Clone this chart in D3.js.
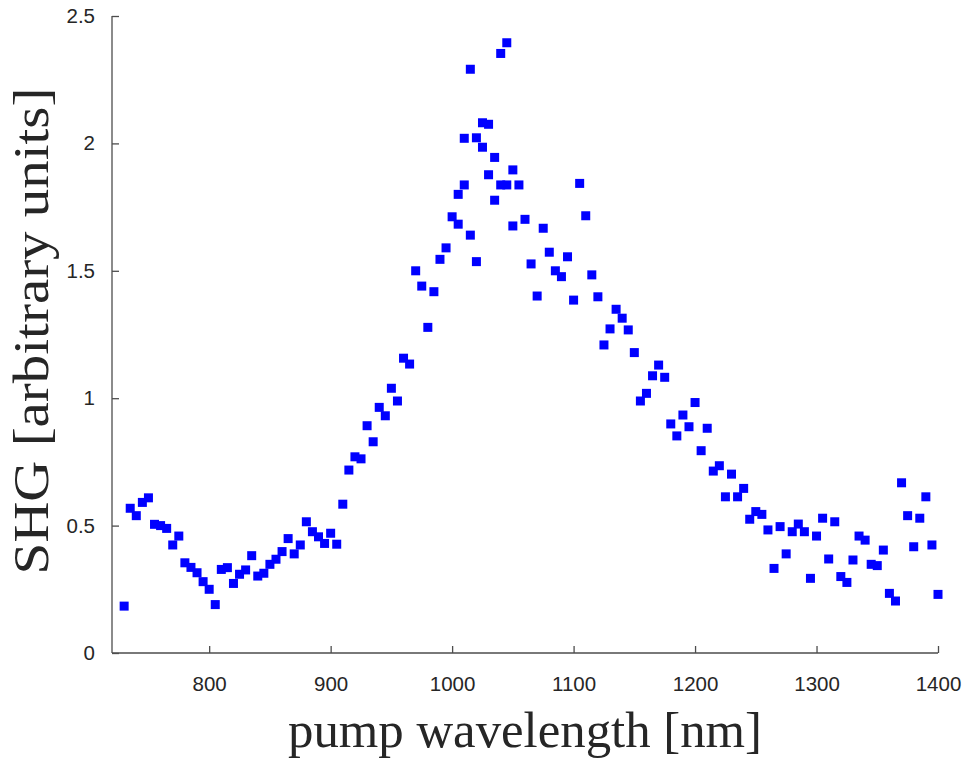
<!DOCTYPE html>
<html>
<head>
<meta charset="utf-8">
<script src="https://cdn.jsdelivr.net/npm/d3@7"></script>
<style>
  body { margin: 0; background: #fff; }
  .axis text { font-family: "Liberation Sans", Arial, sans-serif; font-size: 20.5px; fill: #262626; }
  .axis path, .axis line { stroke: #4d4d4d; stroke-width: 1.3; }
  .label { font-family: "Liberation Serif", "Times New Roman", serif; fill: #262626; }
</style>
</head>
<body>
<script>
// wavelength in nm, SHG in arbitrary units
var wavelength = [730, 735, 740, 745, 750, 755, 760, 765, 770, 775, 780, 785, 790, 795, 800, 805,
    810, 815, 820, 825, 830, 835, 840, 845, 850, 855, 860, 865, 870, 875, 880, 885, 890, 895, 900, 905,
    910, 915, 920, 925, 930, 935, 940, 945, 950, 955, 960, 965, 970, 975, 980, 985, 990, 995, 1000,
    1005, 1005, 1010, 1010, 1015, 1015, 1020, 1020, 1025, 1025, 1030, 1030, 1035, 1035, 1040, 1040,
    1045, 1045, 1050, 1050, 1055, 1060, 1065, 1070, 1075, 1080, 1085, 1090, 1095, 1100, 1105, 1110,
    1115, 1120, 1125, 1130, 1135, 1140, 1145, 1150, 1155, 1160, 1165, 1170, 1175, 1180, 1185, 1190,
    1195, 1200, 1205, 1210, 1215, 1220, 1225, 1230, 1235, 1240, 1245, 1250, 1255, 1260, 1265, 1270,
    1275, 1280, 1285, 1290, 1295, 1300, 1305, 1310, 1315, 1320, 1325, 1330, 1335, 1340, 1345, 1350,
    1355, 1360, 1365, 1370, 1375, 1380, 1385, 1390, 1395, 1400];
var shg = [0.184, 0.568, 0.539, 0.591, 0.609, 0.505, 0.500, 0.489, 0.424, 0.459, 0.354, 0.336, 0.315, 0.280, 0.250, 0.190,
    0.328, 0.335, 0.273, 0.309, 0.326, 0.382, 0.302, 0.313, 0.348, 0.368, 0.398, 0.449, 0.389, 0.424, 0.515, 0.476, 0.456, 0.430, 0.470, 0.427,
    0.584, 0.718, 0.770, 0.762, 0.892, 0.829, 0.964, 0.931, 1.039, 0.989, 1.157, 1.134, 1.500, 1.440, 1.278, 1.418, 1.545, 1.590, 1.712,
    1.800, 1.683, 2.020, 1.837, 2.291, 1.640, 2.022, 1.536, 2.081, 1.985, 2.075, 1.877, 1.945, 1.777, 2.353, 1.837,
    2.395, 1.837, 1.896, 1.676, 1.837, 1.702, 1.527, 1.401, 1.667, 1.573, 1.500, 1.477, 1.555, 1.385, 1.843, 1.716,
    1.484, 1.398, 1.209, 1.272, 1.349, 1.314, 1.268, 1.179, 0.989, 1.019, 1.088, 1.130, 1.082, 0.899, 0.852, 0.934,
    0.888, 0.983, 0.794, 0.882, 0.714, 0.735, 0.613, 0.702, 0.613, 0.646, 0.525, 0.555, 0.544, 0.483, 0.332, 0.496,
    0.389, 0.476, 0.506, 0.476, 0.293, 0.459, 0.529, 0.369, 0.515, 0.300, 0.277, 0.365, 0.459, 0.443, 0.348, 0.343,
    0.404, 0.234, 0.204, 0.668, 0.539, 0.417, 0.529, 0.613, 0.424, 0.230];
var xTicks = [800, 900, 1000, 1100, 1200, 1300, 1400];
var yTicks = [0, 0.5, 1, 1.5, 2, 2.5];

var margin = {top: 16, right: 32, bottom: 105, left: 112},
    width = 970 - margin.left - margin.right,
    height = 758 - margin.top - margin.bottom;

var data = wavelength.map(function(w, i) { return {nm: w, v: shg[i]}; });

var x = d3.scaleLinear().domain([720, 1400]).range([0, width]);
var y = d3.scaleLinear().domain([0, 2.5]).range([height, 0]);

var svg = d3.select("body").append("svg")
    .attr("width", 970)
    .attr("height", 758)
    .append("g")
    .attr("transform", "translate(" + margin.left + "," + margin.top + ")");

svg.append("g")
    .attr("class", "x axis")
    .attr("transform", "translate(0," + height + ")")
    .call(d3.axisBottom(x).tickValues(xTicks).tickFormat(d3.format("d")).tickSizeInner(-7).tickSizeOuter(0).tickPadding(23))
    .select(".domain").attr("d", "M0,0H" + width);

svg.append("g")
    .attr("class", "y axis")
    .call(d3.axisLeft(y).tickValues(yTicks).tickFormat(d3.format("")).tickSizeInner(-7).tickSizeOuter(0).tickPadding(17))
    .select(".domain").attr("d", "M0," + height + "V0");

// markers
var s = 9;
svg.selectAll("rect.pt")
    .data(data)
    .enter().append("rect")
    .attr("class", "pt")
    .attr("x", function(d) { return x(d.nm) - s / 2; })
    .attr("y", function(d) { return y(d.v) - s / 2; })
    .attr("width", s)
    .attr("height", s)
    .attr("fill", "#0000ff");

svg.append("text")
    .attr("class", "label")
    .attr("x", 525 - margin.left)
    .attr("y", height + 94)
    .attr("text-anchor", "middle")
    .attr("textLength", 474)
    .attr("lengthAdjust", "spacingAndGlyphs")
    .style("font-size", "51px")
    .text("pump wavelength [nm]");

svg.append("text")
    .attr("class", "label")
    .attr("transform", "translate(-64," + (331 - margin.top) + ") rotate(-90)")
    .attr("text-anchor", "middle")
    .attr("textLength", 487)
    .attr("lengthAdjust", "spacingAndGlyphs")
    .style("font-size", "51px")
    .text("SHG [arbitrary units]");
</script>
</body>
</html>
